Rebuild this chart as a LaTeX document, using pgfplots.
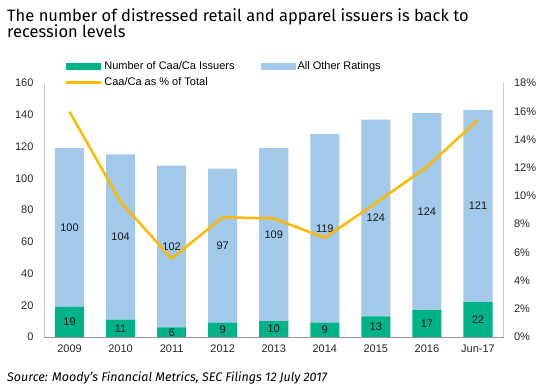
\documentclass[border=0pt]{standalone}
\usepackage{pgfplots}
\pgfplotsset{compat=1.18}
\usepackage{pgfplotstable}
\usepackage{fontspec}
\setmainfont{Liberation Sans}
\newfontfamily\titlefont{Fira Sans}
\definecolor{cgreen}{RGB}{0,178,135}
\definecolor{cblue}{RGB}{162,200,234}
\definecolor{cyellow}{RGB}{255,185,0}
\definecolor{axgray}{RGB}{205,205,205}
\definecolor{botgray}{RGB}{150,150,150}

\pgfplotstableread{
x caa other pct
0 19 100 15.97
1 11 104 9.57
2 6 102 5.56
3 9 97 8.49
4 10 109 8.40
5 9 119 7.03
6 13 124 9.49
7 17 124 12.06
8 22 121 15.38
}\datatable

\pgfplotsset{
  base/.style={
    scale only axis, width=459.5bp, height=254bp,
    at={(44bp,53bp)}, anchor=south west,
    xmin=-0.5, xmax=8.5,
    tick style={draw=none},
    /pgf/number format/assume math mode=true,
    tick label style={font=\fontsize{11bp}{13bp}\selectfont, text=black!85},
  }
}

\begin{document}
\begin{tikzpicture}
\path[use as bounding box] (0,0) rectangle (550bp,390bp);

\node[anchor=base west, inner sep=0pt, font=\titlefont\fontsize{16.5bp}{20bp}\selectfont] at (7bp,368bp) {The number of distressed retail and apparel issuers is back to};
\node[anchor=base west, inner sep=0pt, font=\titlefont\fontsize{16.5bp}{20bp}\selectfont] at (7bp,352.5bp) {recession levels};
\node[anchor=base west, inner sep=0pt, font=\titlefont\itshape\fontsize{12.5bp}{15bp}\selectfont] at (7bp,9bp) {Source: Moody’s Financial Metrics, SEC Filings 12 July 2017};

% bars
\begin{axis}[base,
  ymin=0, ymax=160,
  ybar stacked, bar width=0.57,
  axis x line*=bottom, axis y line*=left,
  x axis line style={-, draw=botgray},
  y axis line style={-, draw=axgray},
  xtick={0,...,8},
  xticklabels={2009,2010,2011,2012,2013,2014,2015,2016,Jun-17},
  ytick={0,20,...,160},
  yticklabel style={xshift=-7bp},
  xticklabel style={yshift=-4bp},
  legend columns=2,
  legend cell align=left,
  legend style={at={(axis description cs:0.045,1.093)}, anchor=north west,
    draw=none, fill=none, inner sep=0pt,
    font=\fontsize{11bp}{13bp}\selectfont,
    /tikz/every even column/.append style={column sep=24bp},
    row sep=3bp},
]
\addplot[fill=cgreen, draw=none,
  legend image code/.code={\fill[cgreen] (0bp,-3.5bp) rectangle (35bp,3.5bp);}]
  table[x=x, y=caa] {\datatable};
\addlegendentry{Number of Caa/Ca Issuers}
\addplot[fill=cblue, draw=none,
  legend image code/.code={\fill[cblue] (0bp,-3.5bp) rectangle (35bp,3.5bp);}]
  table[x=x, y=other] {\datatable};
\addlegendentry{All Other Ratings}
\addlegendimage{legend image code/.code={\draw[cyellow, line width=2.5bp] (0bp,0bp) -- (35bp,0bp);}}
\addlegendentry{Caa/Ca as \% of Total}
\end{axis}

% bar labels
\begin{axis}[base, ymin=0, ymax=160, hide axis]
\addplot[draw=none, mark=none, nodes near coords, point meta=explicit,
  nodes near coords={\pgfmathprintnumber{\pgfplotspointmeta}},
  every node near coord/.style={anchor=center, font=\fontsize{11bp}{13bp}\selectfont, text=black!90}]
  table[x=x, y expr=\thisrow{caa}/2, meta=caa] {\datatable};
\addplot[draw=none, mark=none, nodes near coords, point meta=explicit,
  nodes near coords={\pgfmathprintnumber{\pgfplotspointmeta}},
  every node near coord/.style={anchor=center, font=\fontsize{11bp}{13bp}\selectfont, text=black!90}]
  table[x=x, y expr=\thisrow{caa}+\thisrow{other}/2, meta=other] {\datatable};
\end{axis}

% line on right axis
\begin{axis}[base,
  ymin=0, ymax=18,
  axis x line=none, axis y line*=right,
  y axis line style={-, draw=axgray},
  ytick={0,2,...,18},
  yticklabel={\pgfmathprintnumber{\tick}\%},
  yticklabel style={xshift=7bp},
]
\addplot[cyellow, line width=2.5bp, mark=none, line join=round] table[x=x, y=pct] {\datatable};
\end{axis}
\end{tikzpicture}
\end{document}
